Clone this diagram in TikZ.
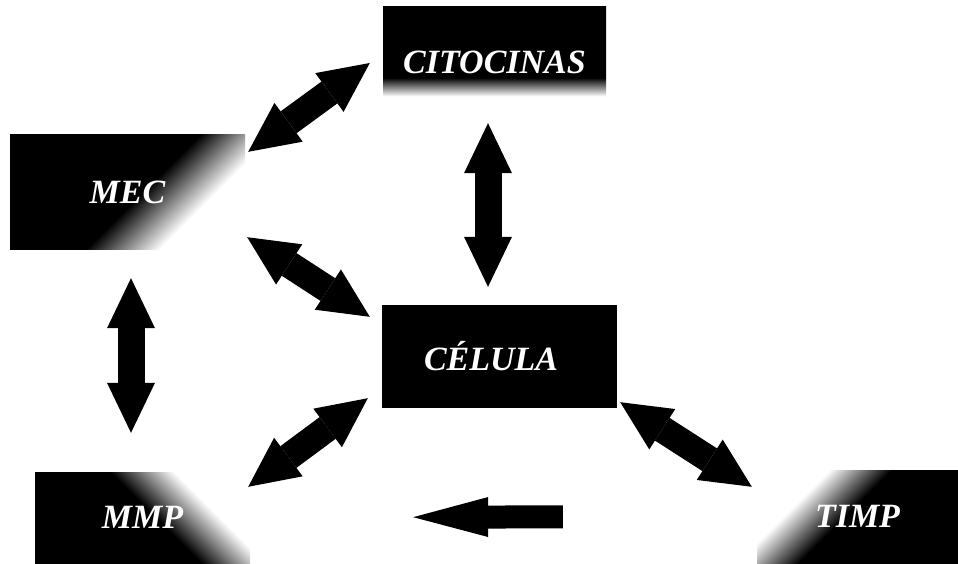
\documentclass[tikz,border=0pt]{standalone}
\usepackage{fontspec}
\setmainfont{Liberation Serif}
\usetikzlibrary{arrows.meta,positioning,calc}
\pgfdeclareverticalshading{cornerfade}{100bp}{color(0bp)=(black); color(53bp)=(black); color(68bp)=(white); color(100bp)=(white)}
\pgfdeclareverticalshading{citofade}{100bp}{color(0bp)=(white); color(27bp)=(white); color(37bp)=(black); color(100bp)=(black)}
\tikzset{
	box/.style={rectangle, fill=black, text=white, inner sep=0pt, font=\fontsize{34}{40}\selectfont\bfseries\itshape},
	fadebox/.style={box, shade, shading=cornerfade, shading angle=#1},
	dirarrow/.style={line width=27pt, {Triangle[length=50pt,width=48pt,line width=0pt]}-{Triangle[length=50pt,width=48pt,line width=0pt]}},
	onearrow/.style={line width=23pt, -{Triangle[length=75pt,width=40pt,line width=0pt]}}
}
\begin{document}
\begin{tikzpicture}[x=1pt, y=1pt]
		\useasboundingbox (0, 0) rectangle (958, 563);
		\node [box, shade, shading=citofade, minimum width=223pt, minimum height=93pt, text height=40pt, text depth=0pt] (cito) at (494.5, 509.5) {CITOCINAS};
		\node [fadebox=225, minimum width=235pt, minimum height=115pt] (mec) at (127.5, 370.5) {MEC};
		\node [box, minimum width=235pt, minimum height=103pt, text width=215pt, align=left] (cel) at (499.5, 206.5) {\hspace*{32pt}CÉLULA};
		\node [fadebox=-45, minimum width=215pt, minimum height=91pt] (mmp) at (142.5, 45.5) {MMP};
		\node [fadebox=45, minimum width=201pt, minimum height=93pt] (timp) at (857.5, 46.5) {TIMP};
		
		\draw [dirarrow] ([shift={(-13,-9.5)}]cito.west) to ([shift={(3,-17)}]mec.north east);
		\draw [dirarrow] ([shift={(-6.5,-23)}]cito.south) to ([shift={(-11.5,18)}]cel.north);
		\draw [dirarrow] ([shift={(2,13)}]mec.south east) to ([shift={(-12,-12)}]cel.north west);
		\draw [dirarrow] ([shift={(3.5,-28)}]mec.south) to ([shift={(-11.5,39)}]mmp.north);
		\draw [dirarrow] ([shift={(-14,10)}]cel.south west) to ([shift={(-2,-15)}]mmp.north east);
		\draw [dirarrow] ([shift={(3,6)}]cel.south east) to ([shift={(-5,-17)}]timp.north west);
		\draw [onearrow, shorten <=194pt, shorten >=163pt] (timp.west) to (mmp.east);
		
	\end{tikzpicture}
\end{document}
